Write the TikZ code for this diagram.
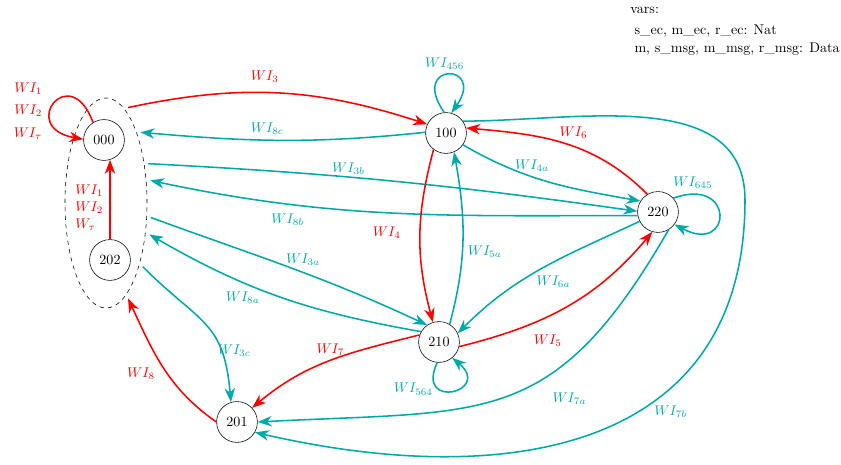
\documentclass[tikz,border=0pt]{standalone}
\usepackage{tikz}
\usepackage{amsmath}
\usetikzlibrary{arrows.meta, shapes.geometric}
\definecolor{wiRed}{RGB}{255, 0, 0}
\definecolor{wiTeal}{RGB}{0, 170, 170}

\begin{document}
\begin{tikzpicture} [
        x=0.025cm, y=0.025cm,
        state/.style={circle, draw, thin, minimum size=1.02cm, inner sep=0pt},
        group/.style={ellipse, draw, dashed, thin, minimum width=2.05cm,
                      minimum height=5.25cm, inner sep=0pt, outer sep=3pt},
        tr/.style={line width=1.1pt, -{Stealth[length=3.5mm, width=2.6mm, inset=1.1mm]}},
        red tr/.style={tr, wiRed},
        teal tr/.style={tr, wiTeal}
    ]

    \useasboundingbox (0, 0) rectangle (841, 465);

    \node[group] (grp) at (106, 262) {};
    \node[state] (n000) at (104, 325) {000};
    \node[state] (n202) at (110, 205) {202};
    \node[state] (n100) at (446, 332) {100};
    \node[state] (n220) at (658, 253) {220};
    \node[state] (n210) at (439, 123) {210};
    \node[state] (n201) at (237, 43) {201};

    \node[anchor=north west, align=left, inner sep=0pt] (vars) at (630, 458)
        {vars:\\[3pt]\hspace*{3pt}s\_ec, m\_ec, r\_ec: Nat\\[1pt]\hspace*{3pt}m, s\_msg, m\_msg, r\_msg: Data};

    % internal steps of the group
    \draw[red tr] (n000.122) .. controls +(110:67) and +(170:67) .. (n000.178);
    \node[wiRed, align=right] (l000) at (28, 354)
        {$WI_1$\\[4pt]$WI_2$\hspace{3.5pt}\\[4pt]$WI_\tau$\hspace{3.5pt}};
    \draw[red tr] (n202.north) -- node[pos=.4, left=1pt, align=left] {$WI_1$\\$WI_2$\\$W_\tau$} (n202.north |- n000.-73);

    % group <-> states
    \draw[red tr] (grp.77) to[out=12, in=162] node[pos=.45, above=3pt] {$WI_3$} (n100.155);
    \draw[teal tr] (n100.178) to[out=186, in=-5] node[pos=.56, above] {$WI_{8c}$} (grp.64);
    \draw[teal tr] (grp.43) to[out=-3, in=172] node[pos=.4, above, inner sep=1pt] {$WI_{3b}$} (n220.178);
    \draw[teal tr] (n220.190) to[out=180, in=-12] node[pos=.73, below=3pt] {$WI_{8b}$} (grp.27);
    \draw[teal tr] (grp.-18) to[out=-20, in=155] node[pos=.55, above=1pt] {$WI_{3a}$} (n210.125);
    \draw[teal tr] (n210.150) to[out=170, in=-30] node[pos=.65, below=3pt] {$WI_{8a}$} (grp.-36);
    \draw[teal tr] (grp.-60) to[out=-45, in=95, looseness=1.3] node[pos=.72, right=-6pt] {$WI_{3c}$} (n201.107);
    \draw[red tr] (n201.180) to[out=145, in=-65] node[pos=.45, left=5pt] {$WI_8$} (grp.-77);

    % 100
    \draw[teal tr] (n100.95) .. controls +(125:62) and +(55:62) .. node[pos=.45, above] {$WI_{456}$} (n100.75);
    \draw[red tr] (n220.121) to[out=135, in=-5] node[pos=.45, above=2pt] {$WI_6$} (n100.14);
    \draw[teal tr] (n100.-35) to[out=-30, in=170] node[pos=.4, above] {$WI_{4a}$} (n220.148);
    \draw[red tr] (n100.-127) to[out=-105, in=105] node[pos=.48, left=10pt] {$WI_4$} (n210.107);
    \draw[teal tr] (n210.59) to[out=75, in=-80] node[pos=.42, right] {$WI_{5a}$} (n100.-67);

    % 220
    \draw[teal tr] (n220.42) .. controls +(20:66) and +(-28:66) .. node[pos=.12, above] {$WI_{645}$} (n220.-37);
    \draw[teal tr] (n220.207) to[out=205, in=45] node[pos=.55, below right=-2pt] {$WI_{6a}$} (n210.25);
    \draw[red tr] (n210.-13) to[out=14, in=-130] node[pos=.4, below=9pt] {$WI_5$} (n220.-106);
    \draw[teal tr] (n220.-59) to[out=-120, in=3, looseness=1.3] node[pos=.38, below right, yshift=-8pt] {$WI_{7a}$} (n201.0);

    % 210
    \draw[teal tr] (n210.-95) .. controls +(-115:53) and +(-40:53) .. node[pos=.3, left] {$WI_{564}$} (n210.-50);
    \draw[red tr] (n210.160) to[out=194, in=40] node[pos=.5, above] {$WI_7$} (n201.43);

    % 100 -> 201 round the right side
    \coordinate (c7b) at (745, 265);
    \draw[teal tr] (n100.35) to[out=0, in=90] (c7b)
        to[out=-90, in=-13, looseness=1.2] node[pos=.37, below right, xshift=-6pt, yshift=-1pt] {$WI_{7b}$} (n201.-30);

\end{tikzpicture}
\end{document}
